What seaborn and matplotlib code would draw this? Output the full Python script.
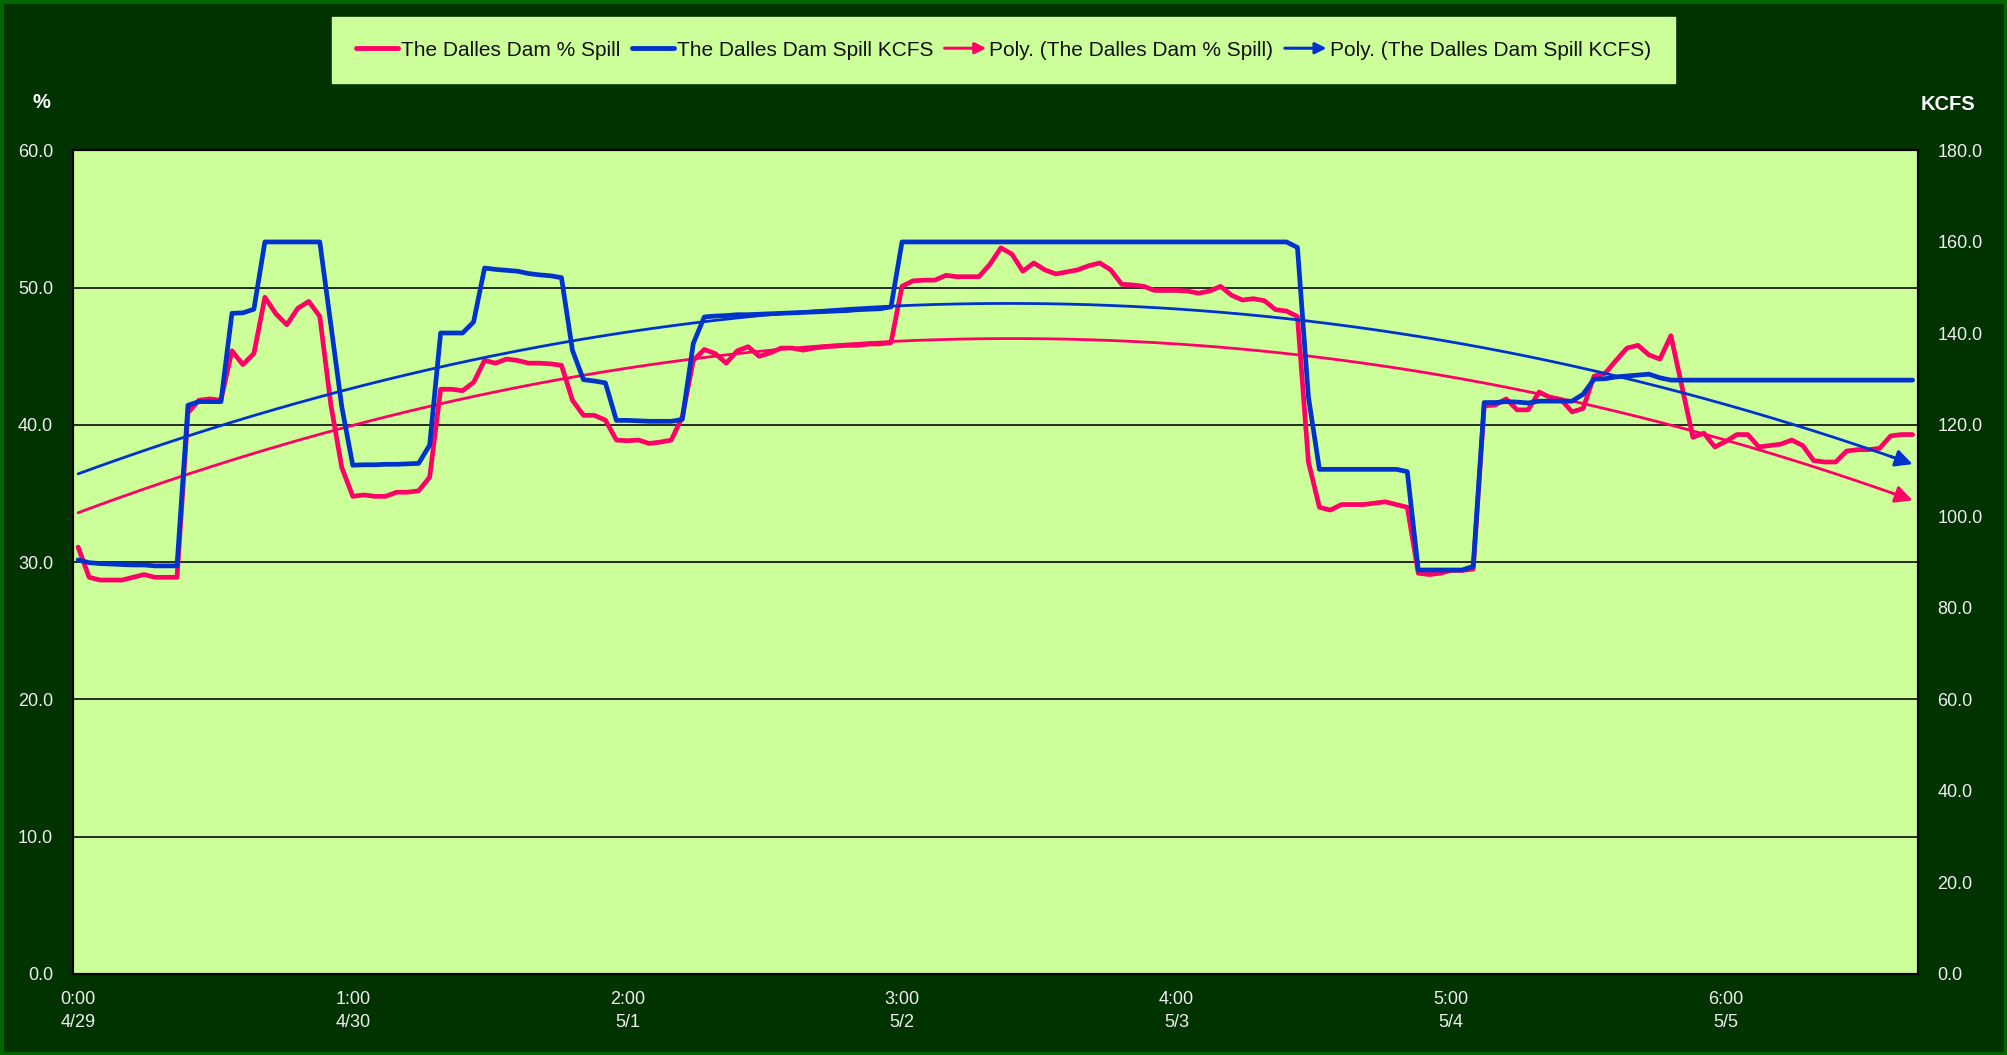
import numpy as np
import pandas as pd
import matplotlib
matplotlib.use("Agg")
import matplotlib.pyplot as plt
import seaborn as sns
from matplotlib.lines import Line2D
from matplotlib.patches import FancyArrowPatch, Rectangle
from matplotlib.legend_handler import HandlerBase

# ---------------- data (hourly, 4/29 0:00 .. 5/5 23:00) ----------------
pct_spill = [
    31.1, 28.9, 28.7, 28.7, 28.7, 28.9, 29.1, 28.9, 28.9, 28.9,
    40.9, 41.8, 41.9, 41.8, 45.4, 44.4, 45.2, 49.3, 48.1, 47.3,
    48.5, 49.0, 47.9, 41.5, 36.9, 34.8, 34.9, 34.8, 34.8, 35.1,
    35.1, 35.2, 36.2, 42.6, 42.6, 42.5, 43.1, 44.7, 44.5, 44.8,
    44.7, 44.5, 44.5, 44.45, 44.35, 41.8, 40.7, 40.7, 40.35, 38.9,
    38.85, 38.9, 38.65, 38.75, 38.9, 40.6, 44.7, 45.5, 45.2, 44.5,
    45.4, 45.7, 45.0, 45.25, 45.6, 45.6, 45.45, 45.6, 45.7, 45.75,
    45.8, 45.8, 45.9, 45.9, 46.0, 50.1, 50.5, 50.55, 50.55, 50.9,
    50.8, 50.8, 50.8, 51.7, 52.9, 52.45, 51.2, 51.8, 51.3, 51.0,
    51.15, 51.3, 51.6, 51.8, 51.3, 50.25, 50.2, 50.1, 49.8, 49.8,
    49.8, 49.75, 49.6, 49.75, 50.1, 49.45, 49.1, 49.2, 49.05, 48.4,
    48.3, 47.9, 37.3, 34.0, 33.8, 34.2, 34.2, 34.2, 34.3, 34.4,
    34.2, 34.0, 29.2, 29.1, 29.2, 29.4, 29.4, 29.5, 41.4, 41.45,
    41.9, 41.1, 41.1, 42.4, 42.0, 41.85, 40.95, 41.2, 43.55, 43.75,
    44.7, 45.6, 45.8, 45.1, 44.8, 46.5, 42.8, 39.1, 39.4, 38.4,
    38.8, 39.3, 39.3, 38.4, 38.5, 38.6, 38.9, 38.5, 37.4, 37.3,
    37.3, 38.1, 38.2, 38.2, 38.3, 39.2, 39.3, 39.3,
]

spill_kcfs = [
    90.5, 89.9, 89.7, 89.6, 89.5, 89.4, 89.4, 89.2, 89.2, 89.2,
    124.3, 125.1, 125.1, 125.1, 144.4, 144.5, 145.3, 160.0, 160.0, 160.0,
    160.0, 160.0, 160.0, 142.0, 124.0, 111.2, 111.3, 111.3, 111.4, 111.4,
    111.5, 111.6, 115.6, 140.1, 140.1, 140.1, 142.5, 154.3, 154.0, 153.8,
    153.6, 153.1, 152.8, 152.6, 152.2, 136.3, 129.9, 129.6, 129.2, 121.0,
    121.0, 120.9, 120.8, 120.8, 120.8, 121.2, 137.8, 143.6, 143.8, 143.9,
    144.1, 144.1, 144.2, 144.3, 144.4, 144.5, 144.6, 144.7, 144.8, 144.9,
    145.0, 145.2, 145.3, 145.4, 145.8, 160.0, 160.0, 160.0, 160.0, 160.0,
    160.0, 160.0, 160.0, 160.0, 160.0, 160.0, 160.0, 160.0, 160.0, 160.0,
    160.0, 160.0, 160.0, 160.0, 160.0, 160.0, 160.0, 160.0, 160.0, 160.0,
    160.0, 160.0, 160.0, 160.0, 160.0, 160.0, 160.0, 160.0, 160.0, 160.0,
    160.0, 158.8, 126.1, 110.3, 110.3, 110.3, 110.3, 110.3, 110.3, 110.3,
    110.3, 109.8, 88.3, 88.3, 88.3, 88.3, 88.3, 89.1, 124.9, 124.9,
    125.1, 125.0, 124.8, 125.2, 125.2, 125.2, 125.2, 126.7, 130.0, 130.1,
    130.5, 130.7, 130.9, 131.1, 130.3, 129.8, 129.8, 129.8, 129.8, 129.8,
    129.8, 129.8, 129.8, 129.8, 129.8, 129.8, 129.8, 129.8, 129.8, 129.8,
    129.8, 129.8, 129.8, 129.8, 129.8, 129.8, 129.8, 129.8,
]

tick_positions = [0, 25, 50, 75, 100, 125, 150]
tick_labels = ["0:00\n4/29", "1:00\n4/30", "2:00\n5/1", "3:00\n5/2",
               "4:00\n5/3", "5:00\n5/4", "6:00\n5/5"]
pct_ticks = [0, 10, 20, 30, 40, 50, 60]
kcfs_ticks = [0, 20, 40, 60, 80, 100, 120, 140, 160, 180]

series_names = ["The Dalles Dam % Spill", "The Dalles Dam Spill KCFS",
                "Poly. (The Dalles Dam % Spill)", "Poly. (The Dalles Dam Spill KCFS)"]

PINK = "#FF0066"
BLUE = "#0033CC"
BG = "#003300"
PLOT_BG = "#CCFF99"
TXT = "#EEEEEE"

# ---------------- figure ----------------
sns.set_theme(style="white")
plt.rcParams["font.family"] = ["Liberation Sans Narrow", "Liberation Sans", "DejaVu Sans"]

fig = plt.figure(figsize=(20.07, 10.55), dpi=100, facecolor=BG)
ax = fig.add_axes([0.0362, 0.0768, 0.9195, 0.7806])
ax.set_facecolor(PLOT_BG)
ax2 = ax.twinx()
ax2.patch.set_visible(False)

hours = np.arange(len(pct_spill))
df = pd.DataFrame({"hour": hours, "pct": pct_spill, "kcfs": spill_kcfs})

# polynomial (order 2) trendlines, like Excel's "Poly." trendline
df["pct_trend"] = np.polyval(np.polyfit(df["hour"], df["pct"], 2), df["hour"])
df["kcfs_trend"] = np.polyval(np.polyfit(df["hour"], df["kcfs"], 2), df["hour"])

sns.lineplot(data=df, x="hour", y="pct", ax=ax, color=PINK, lw=3.4, legend=False)
sns.lineplot(data=df.iloc[:-1], x="hour", y="pct_trend", ax=ax, color=PINK, lw=2.0, legend=False)
ax.annotate("", xy=(df["hour"].iloc[-1], df["pct_trend"].iloc[-1]),
            xytext=(df["hour"].iloc[-3], df["pct_trend"].iloc[-3]),
            arrowprops=dict(arrowstyle="-|>", color=PINK, lw=2.0, mutation_scale=26,
                            shrinkA=0, shrinkB=0))

sns.lineplot(data=df, x="hour", y="kcfs", ax=ax2, color=BLUE, lw=3.4, legend=False)
sns.lineplot(data=df.iloc[:-1], x="hour", y="kcfs_trend", ax=ax2, color=BLUE, lw=2.0, legend=False)
ax2.annotate("", xy=(df["hour"].iloc[-1], df["kcfs_trend"].iloc[-1]),
             xytext=(df["hour"].iloc[-3], df["kcfs_trend"].iloc[-3]),
             arrowprops=dict(arrowstyle="-|>", color=BLUE, lw=2.0, mutation_scale=26,
                             shrinkA=0, shrinkB=0))

ax.set_xlim(-0.5, len(pct_spill) - 0.5)
ax.set_ylim(0, 60)
ax2.set_ylim(0, 180)

ax.set_xticks(tick_positions)
ax.set_xticklabels(tick_labels, linespacing=1.5)
ax.set_yticks(pct_ticks)
ax.set_yticklabels([f"{v:.1f}" for v in pct_ticks])
ax2.set_yticks(kcfs_ticks)
ax2.set_yticklabels([f"{v:.1f}" for v in kcfs_ticks])

ax.set_xlabel("")
ax.set_ylabel("")
ax2.set_ylabel("")

ax.grid(axis="y", color="#1a1a1a", lw=1.3)
ax.grid(axis="x", visible=False)
ax2.grid(False)

ax.tick_params(axis="y", length=0, pad=14, labelcolor=TXT, labelsize=13)
ax.tick_params(axis="x", length=0, pad=12, labelcolor=TXT, labelsize=13)
ax2.tick_params(axis="y", length=0, pad=14, labelcolor=TXT, labelsize=13)

for a in (ax, ax2):
    for s in a.spines.values():
        s.set_color("black")
        s.set_linewidth(1.5)

fig.text(41 / 2007, 1 - 102 / 1055, "%", ha="center", va="center",
         color="white", fontsize=14.5, fontweight="bold")
fig.text(1948 / 2007, 1 - 105 / 1055, "KCFS", ha="center", va="center",
         color="white", fontsize=14.5, fontweight="bold")


class ArrowHandler(HandlerBase):
    def create_artists(self, legend, orig_handle, xdescent, ydescent,
                       width, height, fontsize, trans):
        y = (height - ydescent) / 2
        arr = FancyArrowPatch((-xdescent, y), (-xdescent + width, y),
                              arrowstyle="-|>", mutation_scale=fontsize * 1.1,
                              color=orig_handle.get_color(), lw=2.2,
                              shrinkA=0, shrinkB=0)
        arr.set_transform(trans)
        return [arr]


h1 = Line2D([], [], color=PINK, lw=3.5)
h2 = Line2D([], [], color=BLUE, lw=3.5)
h3 = Line2D([], [], color=PINK, lw=2)
h4 = Line2D([], [], color=BLUE, lw=2)
leg = fig.legend([h1, h2, h3, h4], series_names, loc="center",
                 bbox_to_anchor=(0.5, 1 - 50 / 1055), ncol=4, frameon=True,
                 facecolor=PLOT_BG, edgecolor=PLOT_BG, fancybox=False, framealpha=1,
                 fontsize=15, handlelength=2.0, handletextpad=0.15,
                 columnspacing=0.55, borderpad=1.15,
                 handler_map={h3: ArrowHandler(), h4: ArrowHandler()})
for t in leg.get_texts():
    t.set_color("#111111")

fig.patches.append(Rectangle((0, 0), 1, 1, transform=fig.transFigure, fill=False,
                             edgecolor="#006600", lw=5, zorder=10))

fig.savefig("out.png", dpi=100, facecolor=fig.get_facecolor())
